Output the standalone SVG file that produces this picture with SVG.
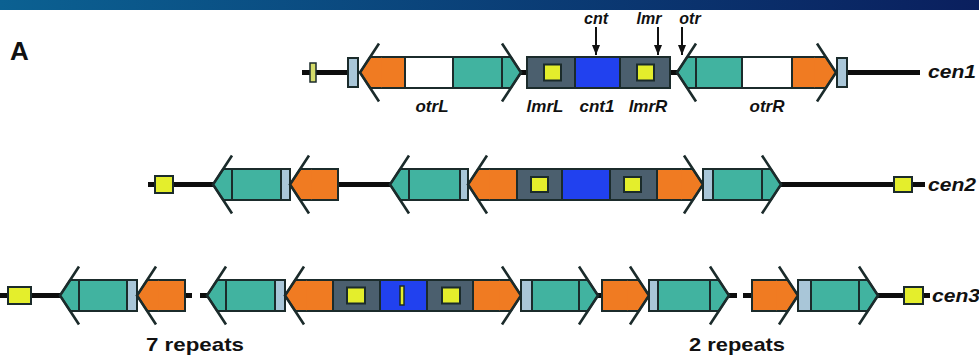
<svg xmlns="http://www.w3.org/2000/svg" width="979" height="356" viewBox="0 0 979 356">
<defs>
  <linearGradient id="band" x1="0" y1="0" x2="1" y2="0">
    <stop offset="0" stop-color="#0b6192"/>
    <stop offset="1" stop-color="#0a1f5e"/>
  </linearGradient>
  <marker id="ptr" viewBox="0 0 10 8" refX="10" refY="4" markerWidth="10" markerHeight="8" markerUnits="userSpaceOnUse" orient="auto">
    <path d="M0,0 L10,4 L0,8 Z" fill="#111"/>
  </marker>
  <!-- right-pointing arrow heads, tip at origin -->
  <g id="hO">
    <path d="M-21.5,-15.5 H-10.2 L0,0 L-10.2,15.5 H-21.5" fill="#f07b22" stroke="#1b2b2b" stroke-width="2"/>
    <path d="M-19,-29 L0,0 L-19,29" fill="none" stroke="#1b2b2b" stroke-width="2.6"/>
  </g>
  <g id="hT">
    <path d="M-19,-15.5 H-10.2 L0,0 L-10.2,15.5 H-19 Z" fill="#41b3a0" stroke="#1b2b2b" stroke-width="2"/>
    <path d="M-19,-29 L0,0 L-19,29" fill="none" stroke="#1b2b2b" stroke-width="2.6"/>
  </g>
</defs>
<style>
  .dk{stroke:#1b2b2b;stroke-width:2}
  .or{fill:#f07b22}
  .tl{fill:#41b3a0}
  .wh{fill:#ffffff}
  .cr{fill:#4b5f6e}
  .bl{fill:#2141ef}
  .ye{fill:#e4ee2c}
  .lb{fill:#a9c6d8}
  .ln{stroke:#0d0d0d;stroke-width:5;fill:none}
  .lab{font-family:"Liberation Sans",Arial,sans-serif;font-weight:bold;fill:#111}
  .it{font-style:italic}
</style>

<rect x="0" y="0" width="979" height="10" fill="url(#band)"/>
<text class="lab" x="10" y="60" font-size="26">A</text>

<!-- backbone lines -->
<g id="connectors">
  <path class="ln" d="M302,72.5 H348 M521,72.5 H527 M670,72.5 H677 M847,72.5 H920"/>
  <path class="ln" d="M148,184.5 H213 M338,184.5 H390 M781,184.5 H925"/>
  <path class="ln" d="M0,295.5 H60 M185,295.5 H192 M200,295.5 H207 M598,295.5 H602 M729,295.5 H737 M743,295.5 H752 M878,295.5 H930"/>
</g>

<!-- pointers above cen1 -->
<g id="pointers" stroke="#111" stroke-width="2" fill="none">
  <path d="M596,27 V55" marker-end="url(#ptr)"/>
  <path d="M658,27 V55" marker-end="url(#ptr)"/>
  <path d="M682,27 V55" marker-end="url(#ptr)"/>
</g>
<g class="lab it" font-size="16" text-anchor="middle">
  <text x="596" y="24">cnt</text>
  <text x="649" y="24">lmr</text>
  <text x="690" y="24">otr</text>
</g>

<!-- cen1 -->
<g id="c1-tel-left">
  <rect x="310" y="63" width="6" height="19" fill="#d5dc6a" stroke="#1b2b2b" stroke-width="1.5"/>
  <rect class="lb dk" x="348" y="58" width="10" height="29"/>
</g>
<g id="c1-otrL">
  <rect class="or dk" x="379" y="57" width="26" height="31"/>
  <use href="#hO" transform="translate(360,72.5) scale(-1,1)"/>
  <rect class="wh dk" x="405" y="57" width="48" height="31"/>
  <rect class="tl dk" x="453" y="57" width="49" height="31"/>
  <use href="#hT" transform="translate(521,72.5)"/>
</g>
<g id="c1-core">
  <rect class="cr dk" x="527" y="57" width="48" height="31"/>
  <rect class="bl dk" x="575" y="57" width="45" height="31"/>
  <rect class="cr dk" x="620" y="57" width="50" height="31"/>
  <rect class="ye dk" x="544" y="64.5" width="17" height="16"/>
  <rect class="ye dk" x="637" y="64.5" width="17" height="16"/>
</g>
<g id="c1-otrR">
  <rect class="tl dk" x="696" y="57" width="46" height="31"/>
  <use href="#hT" transform="translate(677,72.5) scale(-1,1)"/>
  <rect class="wh dk" x="742" y="57" width="50" height="31"/>
  <rect class="or dk" x="792" y="57" width="25" height="31"/>
  <use href="#hO" transform="translate(836,72.5)"/>
</g>
<g id="c1-tel-right">
  <rect class="lb dk" x="837" y="58" width="10" height="29"/>
</g>
<g class="lab it" font-size="17" text-anchor="middle">
  <text x="432" y="112">otrL</text>
  <text x="545" y="112">lmrL</text>
  <text x="597" y="112">cnt1</text>
  <text x="648" y="112">lmrR</text>
  <text x="767" y="112">otrR</text>
</g>
<text class="lab it" x="928" y="78" font-size="19" textLength="48" lengthAdjust="spacingAndGlyphs">cen1</text>

<!-- cen2 -->
<g id="c2-tel-left">
  <rect class="ye dk" x="155" y="176" width="18" height="17"/>
</g>
<g id="c2-rep1">
  <rect class="tl dk" x="232" y="169" width="49" height="31"/>
  <use href="#hT" transform="translate(213,184.5) scale(-1,1)"/>
  <rect class="lb dk" x="281" y="169" width="9" height="31"/>
  <rect class="or dk" x="309" y="169" width="29" height="31"/>
  <use href="#hO" transform="translate(290,184.5) scale(-1,1)"/>
</g>
<g id="c2-rep2">
  <rect class="tl dk" x="409" y="169" width="51" height="31"/>
  <use href="#hT" transform="translate(390,184.5) scale(-1,1)"/>
  <rect class="lb dk" x="460" y="169" width="8" height="31"/>
  <rect class="or dk" x="487" y="169" width="30" height="31"/>
  <use href="#hO" transform="translate(468,184.5) scale(-1,1)"/>
</g>
<g id="c2-core">
  <rect class="cr dk" x="517" y="169" width="45" height="31"/>
  <rect class="bl dk" x="562" y="169" width="48" height="31"/>
  <rect class="cr dk" x="610" y="169" width="47" height="31"/>
  <rect class="ye dk" x="531" y="177" width="17" height="15"/>
  <rect class="ye dk" x="624" y="177" width="17" height="15"/>
</g>
<g id="c2-rep3">
  <rect class="or dk" x="657" y="169" width="27" height="31"/>
  <use href="#hO" transform="translate(703,184.5)"/>
  <rect class="lb dk" x="703" y="169" width="10" height="31"/>
  <rect class="tl dk" x="713" y="169" width="49" height="31"/>
  <use href="#hT" transform="translate(781,184.5)"/>
</g>
<g id="c2-tel-right">
  <rect class="ye dk" x="894" y="177" width="18" height="15"/>
</g>
<text class="lab it" x="928" y="191" font-size="19" textLength="48" lengthAdjust="spacingAndGlyphs">cen2</text>

<!-- cen3 -->
<g id="c3-tel-left">
  <rect class="ye dk" x="8" y="287" width="23" height="17"/>
</g>
<g id="c3-rep1">
  <rect class="tl dk" x="79" y="280" width="48" height="31"/>
  <use href="#hT" transform="translate(60,295.5) scale(-1,1)"/>
  <rect class="lb dk" x="127" y="280" width="10" height="31"/>
  <rect class="or dk" x="156" y="280" width="29" height="31"/>
  <use href="#hO" transform="translate(137,295.5) scale(-1,1)"/>
</g>
<g id="c3-rep2">
  <rect class="tl dk" x="226" y="280" width="49" height="31"/>
  <use href="#hT" transform="translate(207,295.5) scale(-1,1)"/>
  <rect class="lb dk" x="275" y="280" width="10" height="31"/>
  <rect class="or dk" x="304" y="280" width="29" height="31"/>
  <use href="#hO" transform="translate(285,295.5) scale(-1,1)"/>
</g>
<g id="c3-core">
  <rect class="cr dk" x="333" y="280" width="47" height="31"/>
  <rect class="bl dk" x="380" y="280" width="47" height="31"/>
  <rect class="cr dk" x="427" y="280" width="46" height="31"/>
  <rect class="ye dk" x="347" y="287.5" width="18" height="16"/>
  <rect class="ye dk" x="442" y="287.5" width="18" height="16"/>
  <rect class="ye" x="400" y="286" width="4" height="19" stroke="#1b2b2b" stroke-width="1.5"/>
</g>
<g id="c3-rep3">
  <rect class="or dk" x="473" y="280" width="29" height="31"/>
  <use href="#hO" transform="translate(521,295.5)"/>
  <rect class="lb dk" x="521" y="280" width="11" height="31"/>
  <rect class="tl dk" x="532" y="280" width="47" height="31"/>
  <use href="#hT" transform="translate(598,295.5)"/>
</g>
<g id="c3-rep4">
  <rect class="or dk" x="602" y="280" width="28" height="31"/>
  <use href="#hO" transform="translate(649,295.5)"/>
  <rect class="lb dk" x="649" y="280" width="9" height="31"/>
  <rect class="tl dk" x="658" y="280" width="52" height="31"/>
  <use href="#hT" transform="translate(729,295.5)"/>
</g>
<g id="c3-rep5">
  <rect class="or dk" x="752" y="280" width="27" height="31"/>
  <use href="#hO" transform="translate(798,295.5)"/>
  <rect class="lb dk" x="798" y="280" width="13" height="31"/>
  <rect class="tl dk" x="811" y="280" width="48" height="31"/>
  <use href="#hT" transform="translate(878,295.5)"/>
</g>
<g id="c3-tel-right">
  <rect class="ye dk" x="904" y="287" width="19" height="17"/>
</g>
<text class="lab it" x="932" y="302" font-size="19" textLength="48" lengthAdjust="spacingAndGlyphs">cen3</text>

<g class="lab" font-size="19" text-anchor="middle">
  <text x="195" y="351" textLength="98" lengthAdjust="spacingAndGlyphs">7 repeats</text>
  <text x="737" y="351" textLength="96" lengthAdjust="spacingAndGlyphs">2 repeats</text>
</g>
</svg>
